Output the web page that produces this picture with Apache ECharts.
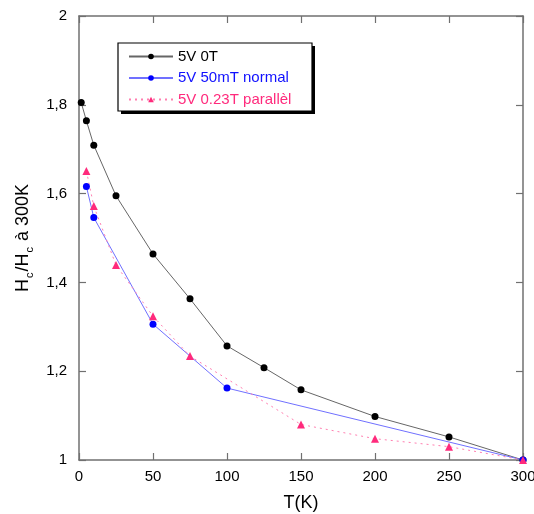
<!DOCTYPE html>
<html>
<head>
<meta charset="utf-8">
<script src="https://cdn.jsdelivr.net/npm/echarts@6/dist/echarts.min.js"></script>
<style>html,body{margin:0;padding:0;background:#fff;}#c{width:534px;height:514px;}</style>
</head>
<body>
<div id="c"></div>
<script>
const seriesNames = ['5V 0T', '5V 50mT normal', '5V 0.23T parallèl'];
const t0T = [1.5, 5, 10, 25, 50, 75, 100, 125, 150, 200, 250, 300];
const h0T = [1.805, 1.764, 1.709, 1.595, 1.464, 1.363, 1.257, 1.208, 1.158, 1.098, 1.052, 1.0];
const t50mT = [5, 10, 50, 100, 300];
const h50mT = [1.616, 1.546, 1.306, 1.162, 1.0];
const t023T = [5, 10, 25, 50, 75, 150, 200, 250, 300];
const h023T = [1.651, 1.572, 1.439, 1.324, 1.234, 1.080, 1.048, 1.030, 1.0];

const FONT = 'Liberation Sans, Arial, Helvetica, sans-serif';
const pair = (xs, ys) => xs.map((x, i) => [x, ys[i]]);
const axisCol = '#707070';

const chart = echarts.init(document.getElementById('c'), null, {renderer: 'canvas'});
chart.setOption({
  animation: false,
  backgroundColor: '#fff',
  textStyle: {fontFamily: FONT},
  grid: {left: 79, right: 11, top: 16, bottom: 54, containLabel: false, outerBoundsMode: 'none'},
  graphic: {
    elements: [
      {type: 'rect', silent: true, shape: {x: 121, y: 46, width: 194, height: 68}, style: {fill: '#000'}},
      {type: 'rect', silent: true, shape: {x: 118, y: 43, width: 194, height: 68}, style: {fill: '#fff', stroke: '#000', lineWidth: 1.2}}
    ]
  },
  legend: {
    left: 118, top: 43, orient: 'vertical', z: 10,
    padding: [5, 12, 5, 10],
    itemWidth: 44, itemHeight: 7, itemGap: 4.5,
    textStyle: {fontSize: 15, fontFamily: FONT, lineHeight: 17},
    data: [
      {name: seriesNames[0], textStyle: {color: '#000'}},
      {name: seriesNames[1], textStyle: {color: '#1010ff'}},
      {name: seriesNames[2], textStyle: {color: '#ff2a7c'}}
    ]
  },
  xAxis: [{
    type: 'value', min: 0, max: 300, interval: 50, position: 'bottom',
    name: 'T(K)', nameLocation: 'middle', nameGap: 34,
    nameTextStyle: {fontSize: 18, color: '#000', fontFamily: FONT},
    axisLine: {onZero: false, lineStyle: {color: axisCol, width: 1.5}},
    axisTick: {inside: true, length: 7, lineStyle: {color: axisCol, width: 1.2}},
    axisLabel: {fontSize: 15, color: '#000', margin: 9, fontFamily: FONT},
    splitLine: {show: false}
  }, {
    type: 'value', min: 0, max: 300, interval: 50, position: 'top',
    axisLine: {onZero: false, lineStyle: {color: axisCol, width: 1.5}},
    axisTick: {inside: true, length: 7, lineStyle: {color: axisCol, width: 1.2}},
    axisLabel: {show: false}, splitLine: {show: false}
  }],
  yAxis: [{
    type: 'value', min: 1, max: 2, interval: 0.2, position: 'left',
    name: 'H{sub|c}/H{sub|c} à 300K', nameLocation: 'middle', nameGap: 41, nameRotate: 90,
    nameTextStyle: {
      fontSize: 18, color: '#000', fontFamily: FONT, lineHeight: 22,
      rich: {sub: {fontSize: 11, color: '#000', fontFamily: FONT, padding: [13, 1, 0, 1], lineHeight: 22}}
    },
    axisLine: {onZero: false, lineStyle: {color: axisCol, width: 1.5}},
    axisTick: {inside: true, length: 7, lineStyle: {color: axisCol, width: 1.2}},
    axisLabel: {
      fontSize: 15, color: '#000', margin: 12, fontFamily: FONT,
      formatter: v => { const r = Math.round(v * 10) / 10; return Number.isInteger(r) ? String(r) : r.toFixed(1).replace('.', ','); }
    },
    splitLine: {show: false}
  }, {
    type: 'value', min: 1, max: 2, interval: 0.2, position: 'right',
    axisLine: {onZero: false, lineStyle: {color: axisCol, width: 1.5}},
    axisTick: {inside: true, length: 7, lineStyle: {color: axisCol, width: 1.2}},
    axisLabel: {show: false}, splitLine: {show: false}
  }],
  series: [{
    name: seriesNames[0], type: 'line', data: pair(t0T, h0T),
    symbol: 'circle', symbolSize: 7,
    lineStyle: {color: '#666', width: 1},
    itemStyle: {color: '#000'}
  }, {
    name: seriesNames[1], type: 'line', data: pair(t50mT, h50mT),
    symbol: 'circle', symbolSize: 7,
    lineStyle: {color: '#7070ff', width: 1},
    itemStyle: {color: '#0000ff'}
  }, {
    name: seriesNames[2], type: 'line', data: pair(t023T, h023T),
    symbol: 'triangle', symbolSize: 8,
    lineStyle: {color: '#ff7fb0', width: 1, type: [2, 4]},
    itemStyle: {color: '#ff2a7c'}
  }]
});
</script>
</body>
</html>
